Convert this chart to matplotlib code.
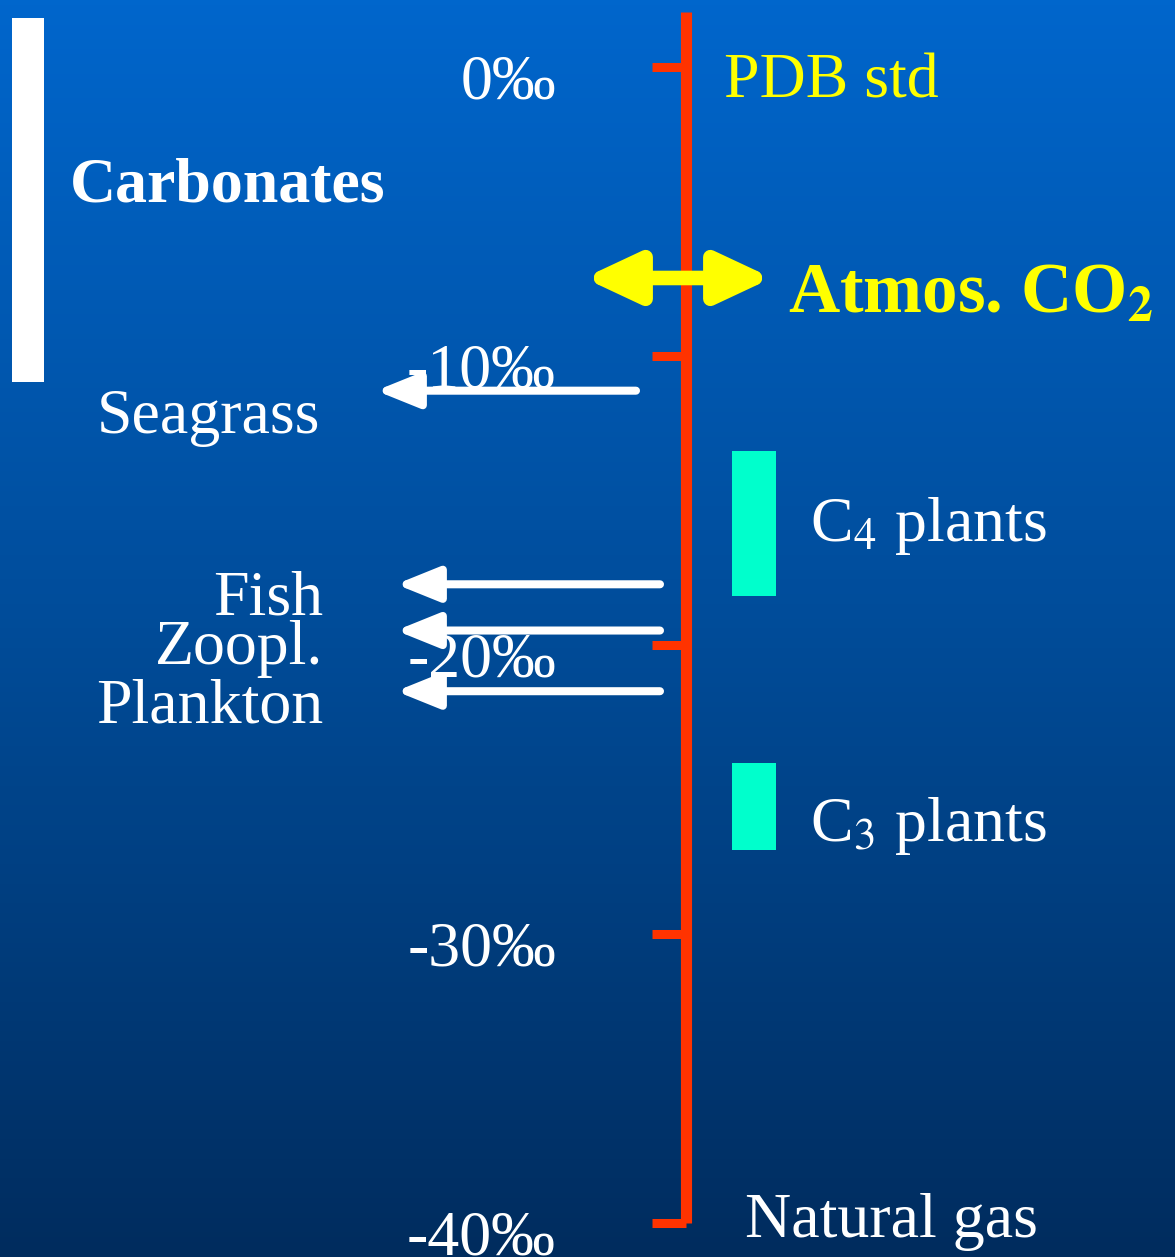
import numpy as np
import matplotlib
matplotlib.use("Agg")
import matplotlib.pyplot as plt
from matplotlib.colors import LinearSegmentedColormap

plt.rcParams['font.family'] = ['Liberation Serif', 'DejaVu Serif']
plt.rcParams['mathtext.fontset'] = 'stix'

# delta 13C scale (per mil, PDB)
tick_values = [0, -10, -20, -30, -40]
tick_labels = ['0‰', '-10‰', '-20‰', '-30‰', '-40‰']
scale_top = 1.9

carbonate_range = [1.7, -10.9]
atmos_co2 = -7.3

consumer_names = ['Seagrass', 'Fish', 'Zoopl.', 'Plankton']
consumer_values = [-11.2, -17.9, -19.5, -21.6]

plant_names = [r'C$_4$ plants', r'C$_3$ plants']
plant_top = [-13.3, -24.1]
plant_bottom = [-18.3, -27.1]

# layout (x in pixels, y in per mil)
Y_TOP, Y_BOT = 2.32, -41.18
AXIS_X = 686
RED = '#ff3300'
TEAL = '#00ffcc'
YELLOW = '#ffff00'

fig = plt.figure(figsize=(11.75, 12.57), dpi=100)
ax = fig.add_axes([0, 0, 1, 1])
ax.set_xlim(0, 1175)
ax.set_ylim(Y_BOT, Y_TOP)
ax.axis('off')

# background gradient
bg = LinearSegmentedColormap.from_list('bg', ['#0066cc', '#004c99', '#002c5e'])
ax.imshow(np.linspace(0, 1, 256).reshape(-1, 1), extent=[0, 1175, Y_BOT, Y_TOP],
          aspect='auto', cmap=bg, zorder=0)

# main red scale
ax.plot([AXIS_X, AXIS_X], [scale_top, tick_values[-1]], color=RED, lw=8,
        solid_capstyle='butt', zorder=3)
for v, lab in zip(tick_values, tick_labels):
    ax.plot([652, AXIS_X], [v, v], color=RED, lw=6.5, solid_capstyle='butt', zorder=3)
    ax.text(556, v - 1.1, lab, color='white', fontsize=46, ha='right',
            va='baseline', zorder=2)

ax.text(724, tick_values[0] - 1.07, 'PDB std', color=YELLOW, fontsize=46,
        ha='left', va='baseline')
ax.text(745, tick_values[-1] - 0.5, 'Natural gas', color='white', fontsize=46,
        ha='left', va='baseline')

# carbonates bar
ax.fill_between([12, 44], carbonate_range[1], carbonate_range[0], color='white',
                lw=0, zorder=2)
ax.text(70, -4.67, 'Carbonates', color='white', fontsize=46, fontweight='bold',
        ha='left', va='baseline')

# atmospheric CO2
ax.annotate('', xy=(772, atmos_co2), xytext=(584, atmos_co2),
            arrowprops=dict(arrowstyle='<|-|>,head_length=3.2,head_width=1.5',
                            lw=10.5, color=YELLOW, shrinkA=0, shrinkB=0), zorder=4)
ax.text(788, atmos_co2 - 1.2, r'Atmos. CO$_\mathbf{2}$', color=YELLOW, fontsize=51,
        fontweight='bold', ha='left', va='baseline')

# consumers
tails = [636, 660, 660, 660]
tips = [376, 396, 396, 396]
label_x = [320, 323, 323, 323]
label_dy = [-1.46, -1.03, -1.16, -1.1]
for name, v, t0, t1, lx, dy in zip(consumer_names, consumer_values, tails, tips,
                                   label_x, label_dy):
    ax.annotate('', xy=(t1, v), xytext=(t0, v),
                arrowprops=dict(arrowstyle='-|>,head_length=2.6,head_width=1.05',
                                lw=5.8, color='white', shrinkA=0, shrinkB=0),
                zorder=4)
    ax.text(lx, v + dy, name, color='white', fontsize=46, ha='right', va='baseline')

# plants
plant_label_y = [-16.4, -26.8]
for name, top, bot, ly in zip(plant_names, plant_top, plant_bottom, plant_label_y):
    ax.fill_between([732, 776], bot, top, color=TEAL, lw=0, zorder=2)
    ax.text(810, ly, name, color='white', fontsize=46, ha='left', va='baseline')

fig.savefig('out.png', dpi=100)
